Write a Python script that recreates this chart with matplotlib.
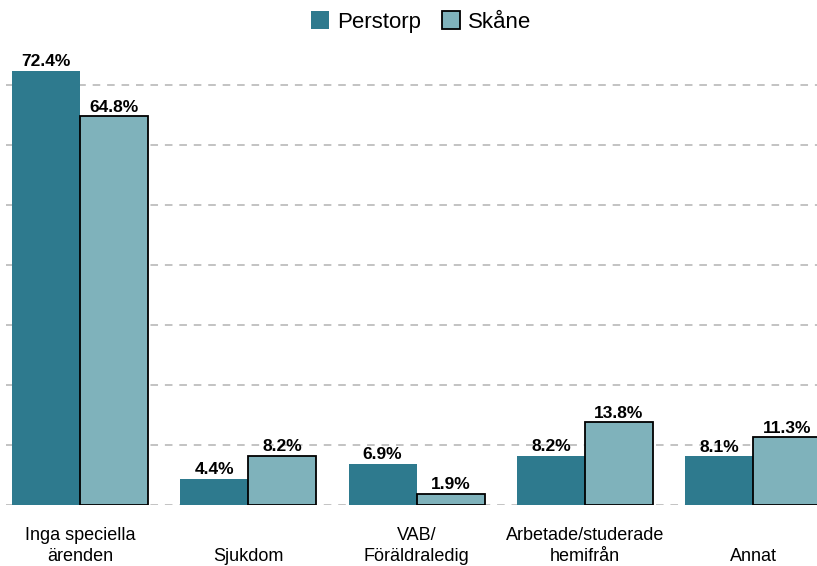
import numpy as np
import matplotlib
matplotlib.use("Agg")
import matplotlib.pyplot as plt

# ----------------------- data ---------------------------------------------- #
categories = ["Inga speciella\närenden", "\nSjukdom", "VAB/\nFöräldraledig",
              "Arbetade/studerade\nhemifrån", "\nAnnat"]
perstorp = [72.4, 4.4, 6.9, 8.2, 8.1]
skane = [64.8, 8.2, 1.9, 13.8, 11.3]
series_names = ["Perstorp", "Skåne"]

# ----------------------- style --------------------------------------------- #
plt.rcParams['font.family'] = ['Liberation Sans', 'DejaVu Sans']
col_perstorp = "#2E7A8E"
col_skane = "#7FB2BB"
W, H = 817, 566

fig = plt.figure(figsize=(W / 100, H / 100), dpi=100)
step = 168.3
ax = fig.add_axes([6 / W, 61 / H, 5 * step / W, 456 / H])

x = np.arange(len(categories))
w = 0.404

b1 = ax.bar(x - w / 2, perstorp, w, color=col_perstorp, label=series_names[0], zorder=3)
b2 = ax.bar(x + w / 2, skane, w, color=col_skane, edgecolor="black", linewidth=1.3,
            label=series_names[1], zorder=3)

for bars in (b1, b2):
    ax.bar_label(bars, labels=[f"{v:.1f}%" for v in bars.datavalues], padding=1,
                 fontsize=12.5, fontweight="bold", zorder=4)

ax.set_xlim(-0.44, 4.56)
ax.set_ylim(0, 76)
ax.set_yticks(np.arange(0, 71, 10))
ax.yaxis.grid(True, color="#BEBEBE", linestyle=(0, (4.2, 3.8)), linewidth=1.3, zorder=0)
ax.set_axisbelow(True)
ax.tick_params(axis="y", length=0, labelleft=False)

ax.set_xticks(x)
ax.set_xticklabels(categories, fontsize=13, linespacing=1.32)
ax.tick_params(axis="x", length=0, pad=16)

for s in ax.spines.values():
    s.set_visible(False)

fig.legend(loc="center", bbox_to_anchor=(421 / W, 1 - 22 / H), ncol=2, frameon=False,
           fontsize=16, handlelength=0.81, handleheight=0.81, handletextpad=0.35,
           columnspacing=0.95)

fig.savefig("out.png", dpi=100)
